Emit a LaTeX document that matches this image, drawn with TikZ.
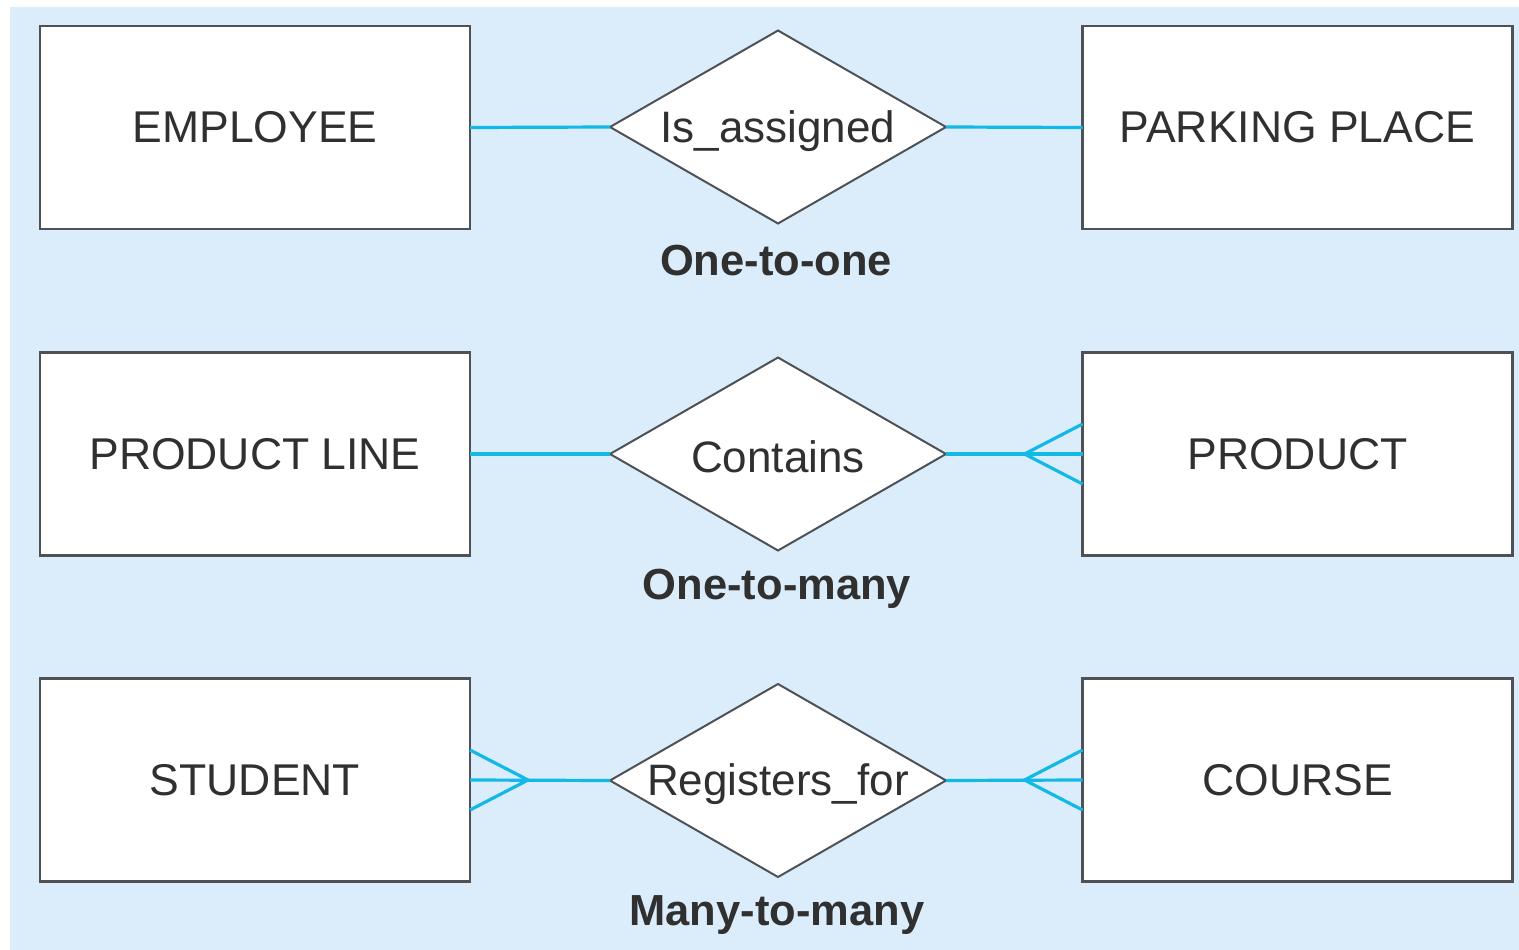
\documentclass[tikz,border=0pt]{standalone}
\usepackage{fontspec}
\setmainfont{Liberation Sans}
\usetikzlibrary{shapes.geometric,calc}

\definecolor{panel}{RGB}{219,237,250}
\definecolor{edge}{RGB}{78,82,86}
\definecolor{linkc}{RGB}{18,184,230}
\definecolor{ink}{RGB}{48,48,48}

\tikzset{
  entity/.style={draw=edge, line width=2.4pt, fill=white, minimum width=430pt,
    minimum height=203pt, inner sep=0pt, outer sep=0pt, text=ink,
    font=\fontsize{44.5}{50}\selectfont},
  rel/.style={draw=edge, line width=2pt, fill=white, shape=diamond,
    minimum width=336pt, minimum height=193pt, inner sep=0pt, outer sep=0pt},
  reltext/.style={text=ink, font=\fontsize{44}{50}\selectfont, inner sep=0pt},
  kind/.style={text=ink, font=\fontsize{43.5}{50}\selectfont\bfseries, inner sep=0pt},
  link/.style={draw=linkc, line width=3.2pt}
}

\begin{document}
\begin{tikzpicture}[x=1pt,y=-1pt]
  \useasboundingbox (0,0) rectangle (1519,950);
  \fill[panel] (10,7) rectangle (1519,950);

  % one-to-one
  \node[entity] (emp) at (255,127.5) {EMPLOYEE};
  \node[entity] (park) at (1297.5,127.5) {PARKING PLACE};
  \node[rel] (asg) at (778,127) {};
  \node[reltext] (asgt) at (778,131) {Is\_assigned};
  \node[kind] (k1) at (776,261) {One-to-one};
  \draw[link] (emp.east) -- (asg.west);
  \draw[link] (asg.east) -- (park.west);

  % one-to-many
  \node[entity] (pline) at (255,454) {PRODUCT LINE};
  \node[entity] (prod) at (1297.5,454) {PRODUCT};
  \node[rel] (cont) at (778,454) {};
  \node[reltext] (contt) at (778,457) {Contains};
  \node[kind] (k2) at (777,589) {One-to-many};
  \draw[link] (pline.east) -- (cont.west);
  \draw[link] (cont.east) -- (prod.west);
  \coordinate (cf2) at ($(prod.west)+(-58,0)$);
  \draw[link] ($(prod.west)+(0,-30)$) -- (cf2) -- ($(prod.west)+(0,30)$);

  % many-to-many
  \node[entity] (stu) at (255,780) {STUDENT};
  \node[entity] (crs) at (1297.5,780) {COURSE};
  \node[rel] (reg) at (778,780.5) {};
  \node[reltext] (regt) at (778,784) {Registers\_for};
  \node[kind] (k3) at (777,915) {Many-to-many};
  \draw[link] (stu.east) -- (reg.west);
  \draw[link] (reg.east) -- (crs.west);
  \coordinate (cf3a) at ($(stu.east)+(58,0)$);
  \draw[link] ($(stu.east)+(0,-30)$) -- (cf3a) -- ($(stu.east)+(0,30)$);
  \coordinate (cf3b) at ($(crs.west)+(-58,0)$);
  \draw[link] ($(crs.west)+(0,-30)$) -- (cf3b) -- ($(crs.west)+(0,30)$);
\end{tikzpicture}
\end{document}
